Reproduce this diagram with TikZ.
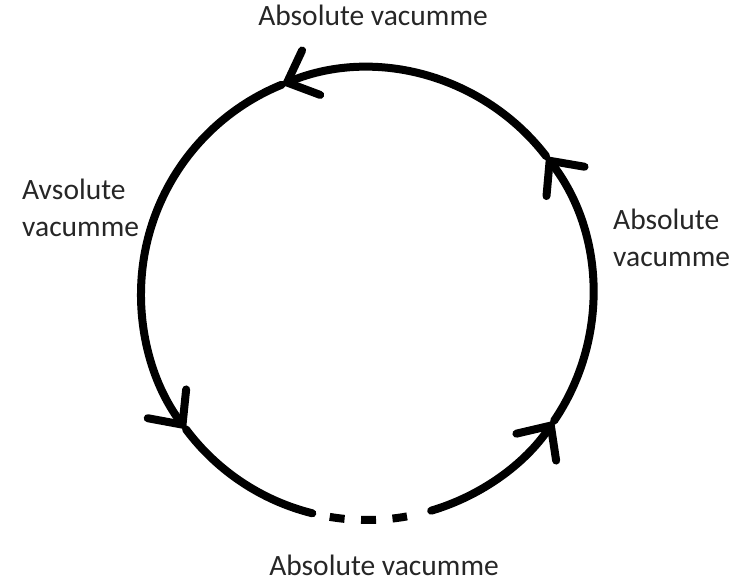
\documentclass[tikz,border=0pt]{standalone}
\usepackage{fontspec}
\setmainfont{Carlito}
\usetikzlibrary{arrows.meta}

\begin{document}
\begin{tikzpicture}[x=1pt, y=1pt,
    flow/.style={line width=8pt, line cap=round, -{Straight Barb[length=26pt, width=48pt, line width=8pt, line cap=round]}},
    plainarc/.style={line width=8pt, line cap=round},
    gaparc/.style={line width=8pt, dash pattern=on 15pt off 16.5pt},
    vaclabel/.style={font=\fontsize{29.5}{37}\selectfont, text=black!85, inner sep=0pt, align=left}
]
\useasboundingbox (0,0) rectangle (746,581);
% circle centre and radius, angles of the four arrow tips
\pgfmathsetmacro{\rad}{226}
\coordinate (c) at (367,287);

% solid part of the loop, counter-clockwise, one arrow per segment
\foreach \a/\b in {286.5/325.9, 325.9/397.6, 397.6/472.2, 472.2/576.8} {
  \draw[flow] (c) ++(\a:\rad) arc[start angle=\a, end angle=\b, radius=\rad];
}
\draw[plainarc] (c) ++(216.8:\rad) arc[start angle=216.8, end angle=256, radius=\rad];

% broken piece at the bottom
\draw[gaparc] (c) ++(260.5:\rad) arc[start angle=260.5, end angle=280.2, radius=\rad];

% labels round the loop
\node[vaclabel, anchor=base] (vactop) at (373,555) {Absolute vacumme};
\node[vaclabel, anchor=base] (vacbot) at (384,6) {Absolute vacumme};
\node[vaclabel, anchor=base west] (vacleft) at (22,344) {Avsolute\\vacumme};
\node[vaclabel, anchor=base west] (vacright) at (613,314) {Absolute\\vacumme};
\end{tikzpicture}
\end{document}
